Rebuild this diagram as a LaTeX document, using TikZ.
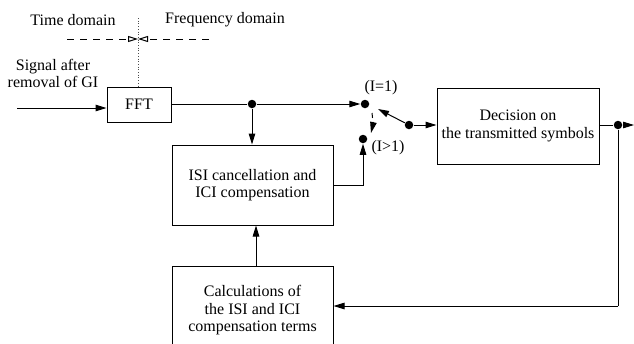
\documentclass[tikz,border=0pt]{standalone}
\usepackage{fontspec}
\setmainfont{Liberation Serif}
\usetikzlibrary{arrows.meta}
\begin{document}
\begin{tikzpicture}[x=1pt,y=-1pt,
  font=\fontsize{16}{17.5}\selectfont,
  line width=1pt,
  box/.style={draw, rectangle, align=center, inner sep=0pt},
  arr/.style={-{Triangle[length=11pt,width=6.5pt]}},
  openarr/.style={-{Triangle[open,length=10pt,width=6pt]}},
  longdash/.style={dash pattern=on 7pt off 6pt},
  contact/.style={circle, fill, inner sep=0pt, minimum size=8.5pt},
  lbl/.style={inner sep=0pt, align=center}]
\clip (0,0) rectangle (634,343);
\fill[white] (0,0) rectangle (634,343);

% blocks
\node[box, minimum width=64pt, minimum height=35pt] (fft) at (139,104.5) {FFT};
\node[box, minimum width=161pt, minimum height=80pt] (isi) at (252.5,185)
  {ISI cancellation and\\ICI compensation};
\node[box, minimum width=161pt, minimum height=89pt] (calc) at (252.5,310.5)
  {Calculations of\\the ISI and ICI\\compensation terms};
\node[box, minimum width=162pt, minimum height=76pt] (dec) at (518,126)
  {Decision on\\the transmitted symbols};

% domain separation
\node[lbl] (td) at (73,20) {Time domain};
\node[lbl] (fd) at (225,20) {Frequency domain};
\coordinate (dtop) at (138,18);
\coordinate (dmid) at (138,39);
\coordinate (dl) at (67,39);
\coordinate (dr) at (209,39);
\draw[dotted, line width=0.7pt, black!70] (dtop) -- (dtop |- fft.north);
\draw[longdash, openarr] (dl) -- (dmid);
\draw[longdash, openarr] (dr) -- (dmid);

% input
\node[lbl] (sig) at (53,73.5) {Signal after\\removal of GI};
\coordinate (in) at (17,108);
\draw[arr] (in) -- (in -| fft.west);

% switch contacts and junctions
\node[contact] (j1) at (252,104) {};
\node[contact] (c1) at (365,104) {};
\node[contact] (c2) at (363,139) {};
\node[contact] (sw) at (409,125) {};
\node[contact] (j2) at (618,125) {};
\node[lbl] (l1) at (381,88) {(I=1)};
\node[lbl] (l2) at (388,148) {(I>1)};
\coordinate (tip) at (378,109);
\coordinate (d1) at (372,113);
\coordinate (d2) at (371,133);
\coordinate (out) at (634,125);
\coordinate (fb) at (618,306);

% connectors
\draw (fft.east |- j1) -- (j1);
\draw[arr] (j1) -- (c1.west);
\draw[arr] (j1) -- (j1 |- isi.north);
\draw[arr] (isi.east |- 0,185) -| (c2.south);
\draw[arr] (sw) -- (tip);
\draw[dash pattern=on 5pt off 4pt, arr] (d1) to[bend left=10] (d2);
\draw[arr] (sw) -- (sw -| dec.west);
\draw (dec.east |- j2) -- (j2);
\draw[arr] (j2) -- (out);
\draw (j2) -- (fb);
\draw[arr] (fb) -- (fb -| calc.east);
\draw[arr] (256,0 |- calc.north) -- (256,0 |- isi.south);
\end{tikzpicture}
\end{document}
